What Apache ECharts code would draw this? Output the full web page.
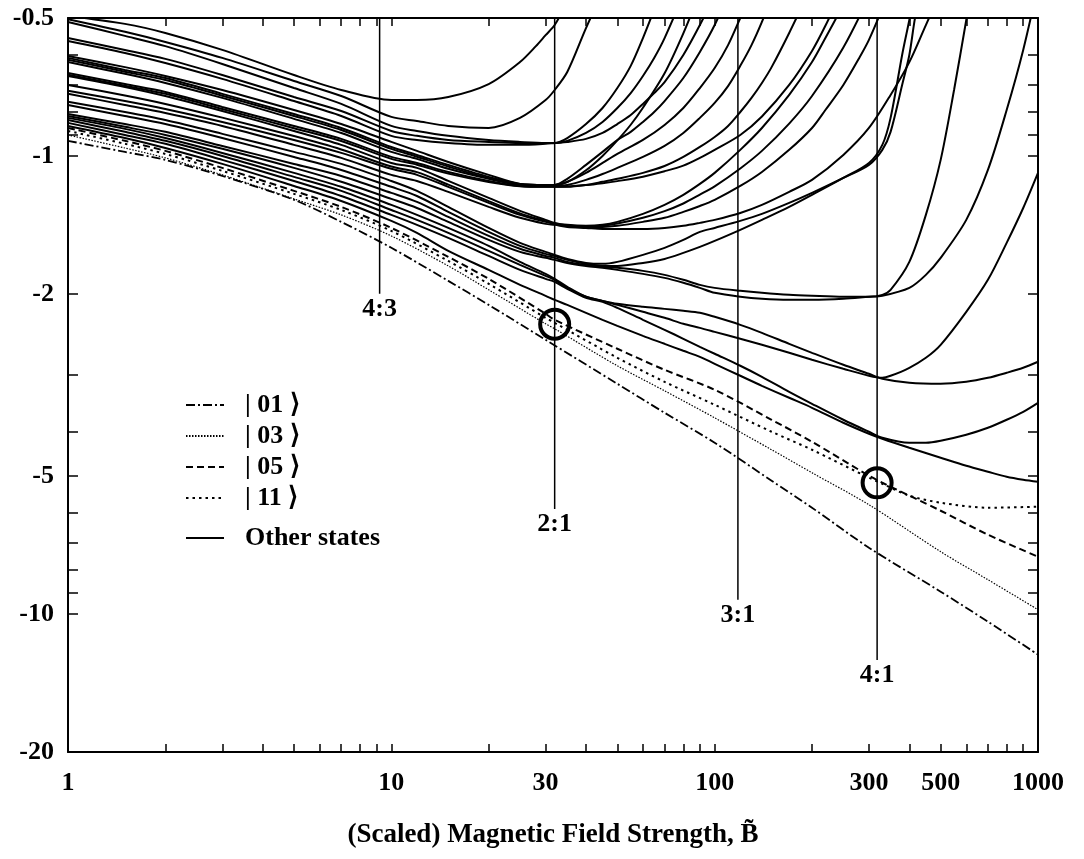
<!DOCTYPE html>
<html><head><meta charset="utf-8">
<script src="https://cdn.jsdelivr.net/npm/echarts@6/dist/echarts.min.js"></script>
<style>html,body{margin:0;padding:0;background:#fff}#c{width:1084px;height:859px}</style>
</head><body><div id="c"></div>
<script>
// ---------- axis ticks / labels ----------
const xLabelValues = [1, 10, 30, 100, 300, 500, 1000];
const xTickValues = [2,3,4,5,6,7,8,9,10,20,30,40,50,60,70,80,90,100,200,300,400,500,600,700,800,900];
const yLabelValues = [-0.5, -1, -2, -5, -10, -20];
const yTickValues = [-0.6,-0.7,-0.8,-0.9,-1,-2,-3,-4,-5,-6,-7,-8,-9,-10];
const xAxisTitle = '(Scaled) Magnetic Field Strength, B\u0303';

// ---------- special states: [B, E] ----------
const state01 = [[1,-0.927],[1.5,-0.980],[2,-1.020],[3,-1.106],[5,-1.247],[7,-1.393],[10,-1.587],[15,-1.874],[20,-2.114],[30,-2.520],[50,-3.143],[70,-3.636],[100,-4.227],[150,-5.116],[200,-5.859],[300,-7.163],[500,-8.935],[700,-10.39],[1000,-12.26]];
const state03 = [[1,-0.900],[1.5,-0.961],[2,-1.010],[3,-1.100],[5,-1.241],[7,-1.345],[10,-1.495],[15,-1.738],[20,-1.960],[30,-2.325],[32,-2.384],[50,-2.871],[70,-3.256],[100,-3.729],[150,-4.379],[200,-4.915],[300,-5.772],[500,-7.309],[700,-8.412],[1000,-9.780]];
const state05 = [[1,-0.869],[1.5,-0.927],[2,-0.975],[3,-1.062],[5,-1.192],[7,-1.292],[10,-1.436],[15,-1.661],[20,-1.855],[30,-2.211],[32,-2.279],[50,-2.636],[70,-2.930],[100,-3.239],[150,-3.766],[200,-4.206],[300,-4.989],[330,-5.168],[500,-5.949],[700,-6.710],[1000,-7.494]];
const state11 = [[1,-0.882],[1.5,-0.941],[2,-0.990],[3,-1.078],[5,-1.210],[7,-1.312],[10,-1.458],[15,-1.695],[20,-1.902],[30,-2.256],[32,-2.314],[50,-2.758],[70,-3.112],[100,-3.493],[150,-4.000],[200,-4.379],[300,-5.040],[330,-5.194],[400,-5.517],[500,-5.714],[700,-5.859],[1000,-5.830]];

// ---------- other states: [B, E] ----------
const otherT1 = [[1,-0.495],[1.5,-0.515],[2,-0.539],[3,-0.587],[5,-0.666],[7,-0.718],[10,-0.755],[12,-0.755],[15,-0.744],[20,-0.697],[25,-0.624],[28,-0.576],[30,-0.545],[32,-0.518],[35,-0.461]];
const otherT2 = [[1,-0.503],[1.5,-0.536],[2,-0.564],[3,-0.611],[5,-0.686],[7,-0.740],[10,-0.822],[12,-0.839],[15,-0.860],[20,-0.869],[25,-0.826],[30,-0.755],[32,-0.718],[35,-0.656],[40,-0.526],[45,-0.439]];
const otherX1a = [[1,-0.510],[1.5,-0.547],[2,-0.576],[3,-0.630],[5,-0.711],[7,-0.770],[10,-0.860],[12,-0.882],[15,-0.904],[20,-0.923],[25,-0.932],[30,-0.937],[32,-0.937],[35,-0.914],[40,-0.852],[45,-0.786],[50,-0.711],[55,-0.636],[60,-0.553],[65,-0.480],[70,-0.424]];
const otherX1b = [[1,-0.553],[1.5,-0.587],[2,-0.614],[3,-0.666],[5,-0.744],[7,-0.798],[10,-0.882],[12,-0.904],[15,-0.923],[20,-0.932],[25,-0.937],[30,-0.937],[32,-0.937],[35,-0.927],[40,-0.891],[45,-0.843],[50,-0.786],[55,-0.729],[60,-0.669],[65,-0.611],[70,-0.553],[80,-0.445]];
const otherX1c = [[1,-0.561],[1.5,-0.596],[2,-0.627],[3,-0.679],[5,-0.759],[7,-0.818],[10,-0.904],[12,-0.923],[15,-0.937],[20,-0.946],[25,-0.946],[30,-0.941],[32,-0.937],[35,-0.932],[40,-0.918],[45,-0.891],[50,-0.852],[55,-0.814],[60,-0.770],[65,-0.729],[70,-0.690],[80,-0.602],[90,-0.518],[100,-0.445]];
const otherA1 = [[1,-0.605],[1.5,-0.640],[2,-0.669],[3,-0.718],[5,-0.794],[7,-0.852],[10,-0.932],[12,-0.975],[15,-1.031],[20,-1.100],[25,-1.151],[30,-1.157],[32,-1.157],[35,-1.122],[40,-1.046],[45,-0.980],[50,-0.923],[55,-0.886],[60,-0.843],[65,-0.802],[70,-0.759],[80,-0.676],[90,-0.593],[100,-0.518],[110,-0.445]];
const otherA2 = [[1,-0.611],[1.5,-0.649],[2,-0.676],[3,-0.732],[5,-0.810],[7,-0.869],[10,-0.956],[12,-0.995],[15,-1.046],[20,-1.111],[25,-1.151],[30,-1.157],[32,-1.157],[35,-1.139],[40,-1.089],[45,-1.036],[50,-0.990],[60,-0.923],[70,-0.856],[80,-0.786],[90,-0.711],[100,-0.643],[110,-0.573],[120,-0.500],[130,-0.439]];
const otherG1 = [[1,-0.617],[1.5,-0.655],[2,-0.683],[3,-0.739],[5,-0.818],[7,-0.878],[10,-0.965],[12,-1.004],[15,-1.055],[20,-1.118],[25,-1.153],[30,-1.157],[32,-1.157],[35,-1.140],[40,-1.075],[45,-1.000],[50,-0.925],[55,-0.855],[60,-0.785],[70,-0.660],[80,-0.540],[90,-0.440]];
const otherA3 = [[1,-0.624],[1.5,-0.662],[2,-0.693],[3,-0.747],[5,-0.830],[7,-0.891],[10,-0.980],[12,-1.015],[15,-1.067],[20,-1.122],[25,-1.157],[30,-1.163],[32,-1.163],[35,-1.157],[40,-1.128],[45,-1.095],[50,-1.062],[60,-1.005],[70,-0.951],[80,-0.891],[90,-0.826],[100,-0.766],[110,-0.704],[120,-0.636],[130,-0.573],[140,-0.510],[150,-0.450]];
const otherA4 = [[1,-0.659],[1.5,-0.697],[2,-0.725],[3,-0.782],[5,-0.860],[7,-0.918],[10,-1.005],[12,-1.036],[15,-1.084],[20,-1.134],[25,-1.163],[30,-1.168],[32,-1.168],[35,-1.168],[40,-1.157],[45,-1.139],[50,-1.122],[60,-1.089],[70,-1.052],[80,-1.005],[90,-0.956],[100,-0.909],[110,-0.860],[120,-0.802],[130,-0.747],[140,-0.693],[150,-0.640],[170,-0.539],[200,-0.424]];
const otherG2 = [[1,-0.665],[1.5,-0.703],[2,-0.732],[3,-0.790],[5,-0.870],[7,-0.928],[10,-1.015],[12,-1.045],[15,-1.093],[20,-1.140],[25,-1.165],[30,-1.168],[32,-1.168],[35,-1.166],[40,-1.158],[45,-1.147],[50,-1.135],[60,-1.110],[70,-1.080],[80,-1.050],[90,-1.010],[100,-0.970],[120,-0.900],[140,-0.820],[170,-0.700],[200,-0.590],[220,-0.520],[250,-0.430]];
const otherB1 = [[1,-0.669],[1.5,-0.707],[2,-0.740],[3,-0.798],[5,-0.882],[7,-0.946],[10,-1.036],[12,-1.062],[15,-1.134],[20,-1.235],[25,-1.318],[30,-1.379],[32,-1.400],[35,-1.414],[40,-1.421],[45,-1.414],[50,-1.393],[60,-1.338],[70,-1.279],[80,-1.216],[90,-1.151],[100,-1.089],[120,-0.970],[140,-0.869],[170,-0.736],[200,-0.624],[220,-0.553],[250,-0.468],[280,-0.403]];
const otherG3 = [[1,-0.700],[1.5,-0.738],[2,-0.770],[3,-0.825],[5,-0.905],[7,-0.968],[10,-1.055],[12,-1.085],[15,-1.155],[20,-1.255],[25,-1.335],[30,-1.388],[32,-1.405],[35,-1.418],[40,-1.425],[45,-1.420],[50,-1.405],[60,-1.365],[70,-1.320],[80,-1.270],[90,-1.215],[100,-1.165],[120,-1.065],[140,-0.975],[170,-0.850],[200,-0.740],[250,-0.580],[300,-0.450]];
const otherB2 = [[1,-0.721],[1.5,-0.759],[2,-0.790],[3,-0.843],[5,-0.923],[7,-0.985],[10,-1.067],[12,-1.100],[15,-1.168],[20,-1.266],[25,-1.345],[30,-1.393],[32,-1.407],[35,-1.421],[40,-1.429],[45,-1.429],[50,-1.421],[60,-1.393],[70,-1.365],[80,-1.325],[90,-1.286],[100,-1.247],[120,-1.163],[140,-1.084],[170,-0.970],[200,-0.869],[220,-0.794],[250,-0.700],[280,-0.611],[300,-0.558],[330,-0.476],[350,-0.424]];
const otherB3 = [[1,-0.732],[1.5,-0.774],[2,-0.806],[3,-0.860],[5,-0.946],[7,-1.010],[10,-1.100],[12,-1.134],[15,-1.198],[20,-1.292],[25,-1.365],[30,-1.407],[32,-1.414],[35,-1.429],[40,-1.436],[45,-1.443],[50,-1.443],[60,-1.443],[70,-1.436],[80,-1.421],[90,-1.400],[100,-1.379],[120,-1.332],[140,-1.279],[170,-1.198],[200,-1.128],[250,-0.995],[300,-0.869],[350,-0.736],[400,-0.624],[450,-0.518],[500,-0.439]];
const otherC1 = [[1,-0.762],[1.5,-0.802],[2,-0.835],[3,-0.895],[5,-0.980],[7,-1.041],[10,-1.134],[12,-1.192],[15,-1.292],[20,-1.436],[25,-1.548],[30,-1.620],[32,-1.644],[35,-1.678],[40,-1.712],[45,-1.720],[50,-1.703],[60,-1.644],[70,-1.587],[80,-1.525],[90,-1.465],[100,-1.436],[120,-1.386],[140,-1.338],[170,-1.266],[200,-1.204],[250,-1.117],[300,-1.046],[330,-0.970],[350,-0.886],[380,-0.700],[400,-0.602],[420,-0.485],[450,-0.413]];
const otherC2 = [[1,-0.774],[1.5,-0.818],[2,-0.852],[3,-0.914],[5,-1.005],[7,-1.073],[10,-1.168],[12,-1.223],[15,-1.325],[20,-1.465],[25,-1.572],[30,-1.636],[32,-1.653],[35,-1.686],[40,-1.720],[45,-1.738],[50,-1.738],[60,-1.712],[70,-1.678],[80,-1.628],[90,-1.580],[100,-1.533],[120,-1.450],[140,-1.379],[170,-1.292],[200,-1.216],[250,-1.117],[300,-1.036],[330,-0.946],[350,-0.826],[380,-0.602],[400,-0.505],[420,-0.424]];
const otherC3 = [[1,-0.810],[1.5,-0.852],[2,-0.886],[3,-0.951],[5,-1.041],[7,-1.106],[10,-1.204],[12,-1.260],[15,-1.359],[20,-1.495],[25,-1.595],[30,-1.653],[32,-1.669],[35,-1.703],[40,-1.729],[45,-1.746],[50,-1.755],[60,-1.782],[70,-1.818],[80,-1.864],[90,-1.912],[100,-1.941],[120,-1.970],[140,-1.990],[170,-2.010],[200,-2.020],[250,-2.030],[300,-2.030],[330,-2.010],[350,-1.960],[400,-1.703],[450,-1.345],[500,-1.020],[550,-0.718],[600,-0.505],[630,-0.413]];
const otherC4 = [[1,-0.818],[1.5,-0.864],[2,-0.900],[3,-0.965],[5,-1.062],[7,-1.139],[10,-1.241],[12,-1.299],[15,-1.393],[20,-1.525],[25,-1.620],[30,-1.669],[32,-1.686],[35,-1.712],[40,-1.738],[45,-1.755],[50,-1.773],[60,-1.809],[70,-1.846],[80,-1.892],[90,-1.941],[100,-1.990],[120,-2.030],[140,-2.051],[170,-2.061],[200,-2.061],[250,-2.051],[300,-2.030],[330,-2.020],[400,-1.941],[450,-1.818],[500,-1.669],[600,-1.379],[700,-1.073],[800,-0.794],[900,-0.587],[1000,-0.424]];
const otherDa = [[1,-0.826],[1.5,-0.873],[2,-0.914],[3,-0.985],[5,-1.089],[7,-1.168],[10,-1.279],[12,-1.345],[15,-1.436],[20,-1.572],[25,-1.703],[30,-1.809],[32,-1.855],[35,-1.931],[40,-2.030],[45,-2.072],[50,-2.114],[60,-2.189],[70,-2.256],[80,-2.325],[90,-2.373],[100,-2.421],[120,-2.507],[140,-2.584],[170,-2.690],[200,-2.786],[250,-2.915],[300,-3.019],[330,-3.050],[350,-3.019],[400,-2.900],[450,-2.758],[500,-2.584],[600,-2.189],[700,-1.864],[800,-1.548],[900,-1.299],[1000,-1.089]];
const otherDb = [[1,-0.835],[1.5,-0.886],[2,-0.927],[3,-1.000],[5,-1.111],[7,-1.192],[10,-1.312],[12,-1.379],[15,-1.472],[20,-1.611],[25,-1.729],[30,-1.827],[32,-1.864],[35,-1.941],[40,-2.030],[45,-2.072],[50,-2.103],[60,-2.135],[70,-2.157],[80,-2.178],[90,-2.200],[100,-2.245],[120,-2.337],[140,-2.433],[170,-2.571],[200,-2.690],[250,-2.857],[300,-2.989],[330,-3.065],[400,-3.127],[500,-3.143],[600,-3.112],[700,-3.050],[800,-2.974],[900,-2.900],[1000,-2.814]];
const otherDc = [[1,-0.847],[1.5,-0.900],[2,-0.941],[3,-1.020],[5,-1.134],[7,-1.223],[10,-1.345],[12,-1.414],[15,-1.510],[20,-1.653],[25,-1.773],[30,-1.855],[32,-1.883],[35,-1.950],[40,-2.041],[45,-2.082],[50,-2.146],[60,-2.279],[70,-2.396],[80,-2.507],[90,-2.610],[100,-2.703],[120,-2.871],[140,-3.035],[170,-3.272],[200,-3.475],[250,-3.766],[300,-4.000],[330,-4.122],[400,-4.227],[450,-4.227],[500,-4.185],[600,-4.061],[700,-3.921],[800,-3.766],[900,-3.618],[1000,-3.458]];
const otherDd = [[1,-0.860],[1.5,-0.914],[2,-0.961],[3,-1.041],[5,-1.163],[7,-1.254],[10,-1.386],[12,-1.472],[15,-1.611],[20,-1.773],[25,-1.912],[30,-2.020],[32,-2.061],[35,-2.114],[40,-2.200],[45,-2.279],[50,-2.349],[60,-2.470],[70,-2.571],[80,-2.663],[90,-2.745],[100,-2.843],[120,-3.019],[140,-3.175],[170,-3.372],[200,-3.546],[250,-3.823],[300,-4.040],[330,-4.143],[400,-4.335],[500,-4.558],[600,-4.745],[700,-4.890],[800,-5.015],[900,-5.091],[1000,-5.142]];
const otherStates = [otherT1, otherT2, otherX1a, otherX1b, otherX1c, otherA1, otherA2, otherG1, otherA3, otherA4, otherG2, otherB1, otherG3, otherB2, otherB3, otherC1, otherC2, otherC3, otherC4, otherDa, otherDb, otherDc, otherDd];

// ---------- resonances and circled crossings ----------
const resonanceLabels = ['4:3', '2:1', '3:1', '4:1'];
const resonanceB = [9.2, 32, 118, 318];
const resonanceEnd = [-2.0, -5.9, -9.3, -12.6];
const circledPoints = [[32, -2.33], [318, -5.17]];

const specialNames = ['| 01 \u27E9', '| 03 \u27E9', '| 05 \u27E9', '| 11 \u27E9'];
const otherName = 'Other states';

const FONT = 'Liberation Serif';
const mag = arr => arr.map(p => [p[0], Math.abs(p[1])]);

const specialStyles = [
  {width: 1.8, type: [9, 3, 2, 3]},
  {width: 1.2, type: [1.5, 1.5]},
  {width: 2, type: [7, 4]},
  {width: 2, type: [2.5, 4]}
];
const specialData = [state01, state03, state05, state11];

const series = [];
otherStates.forEach(curve => {
  series.push({name: otherName, type: 'line', data: mag(curve), symbol: 'none', smooth: 0.3,
    itemStyle: {color: '#000'}, lineStyle: {color: '#000', width: 2}, silent: true});
});
specialData.forEach((d, i) => {
  series.push({name: specialNames[i], type: 'line', data: mag(d), symbol: 'none', smooth: 0.3,
    itemStyle: {color: '#000'}, lineStyle: Object.assign({color: '#000'}, specialStyles[i]), silent: true});
});
resonanceB.forEach((b, i) => {
  series.push({name: 'res' + i, type: 'line', data: [[b, 0.5], [b, Math.abs(resonanceEnd[i])]], symbol: 'none',
    lineStyle: {color: '#000', width: 1.5}, silent: true});
});
series.push({name: 'resLabels', type: 'scatter', symbol: 'rect', symbolSize: 1,
  itemStyle: {color: 'rgba(0,0,0,0)', opacity: 1},
  data: resonanceB.map((b, i) => ({value: [b, Math.abs(resonanceEnd[i])], name: resonanceLabels[i]})),
  label: {show: true, position: 'bottom', distance: 2, formatter: '{b}', color: '#000', opacity: 1,
    fontFamily: FONT, fontSize: 26, fontWeight: 'bold'}, silent: true});
series.push({name: 'circles', type: 'scatter', symbol: 'circle', symbolSize: 29, z: 10,
  itemStyle: {color: 'rgba(0,0,0,0)', borderColor: '#000', borderWidth: 4, opacity: 1},
  data: mag(circledPoints), silent: true});

const axisLineStyle = {show: true, lineStyle: {color: '#000', width: 2}};
const labelFont = {color: '#000', fontFamily: FONT, fontSize: 26, fontWeight: 'bold'};

const legendCommon = {orient: 'vertical', left: 185, itemWidth: 38, itemHeight: 14, itemGap: 5, padding: 0,
  selectedMode: false, itemStyle: {opacity: 0},
  textStyle: Object.assign({padding: [0, 0, 0, 16]}, labelFont)};

const option = {
  animation: false,
  backgroundColor: '#fff',
  grid: {left: 68, right: 46, top: 18, bottom: 107, containLabel: false},
  legend: [
    Object.assign({data: specialNames, top: 392}, legendCommon),
    Object.assign({data: [otherName], top: 525}, legendCommon)
  ],
  xAxis: [
    {type: 'log', min: 1, max: 1000, position: 'bottom', axisLine: axisLineStyle,
      axisTick: {show: true, inside: true, length: 8, customValues: xTickValues, lineStyle: {color: '#000', width: 1.5}},
      axisLabel: Object.assign({customValues: xLabelValues, margin: 18, formatter: v => String(Math.round(v))}, labelFont),
      splitLine: {show: false}, minorTick: {show: false},
      name: xAxisTitle, nameLocation: 'middle', nameGap: 70,
      nameTextStyle: {color: '#000', fontFamily: FONT, fontSize: 27, fontWeight: 'bold'}},
    {type: 'log', min: 1, max: 1000, position: 'top', axisLine: axisLineStyle,
      axisTick: {show: true, inside: true, length: 8, customValues: xTickValues, lineStyle: {color: '#000', width: 1.5}},
      axisLabel: {show: false}, splitLine: {show: false}}
  ],
  yAxis: [
    {type: 'log', min: 0.5, max: 20, inverse: true, position: 'left', axisLine: axisLineStyle,
      axisTick: {show: true, inside: true, length: 10, customValues: yTickValues.map(Math.abs), lineStyle: {color: '#000', width: 1.5}},
      axisLabel: Object.assign({customValues: yLabelValues.map(Math.abs), margin: 14,
        formatter: v => '-' + (+Number(v).toPrecision(3))}, labelFont),
      splitLine: {show: false}, minorTick: {show: false}},
    {type: 'log', min: 0.5, max: 20, inverse: true, position: 'right', axisLine: axisLineStyle,
      axisTick: {show: true, inside: true, length: 10, customValues: yTickValues.map(Math.abs), lineStyle: {color: '#000', width: 1.5}},
      axisLabel: {show: false}, splitLine: {show: false}}
  ],
  series: series
};

const chart = echarts.init(document.getElementById('c'), null, {renderer: 'canvas'});
chart.setOption(option);
</script>
</body></html>
